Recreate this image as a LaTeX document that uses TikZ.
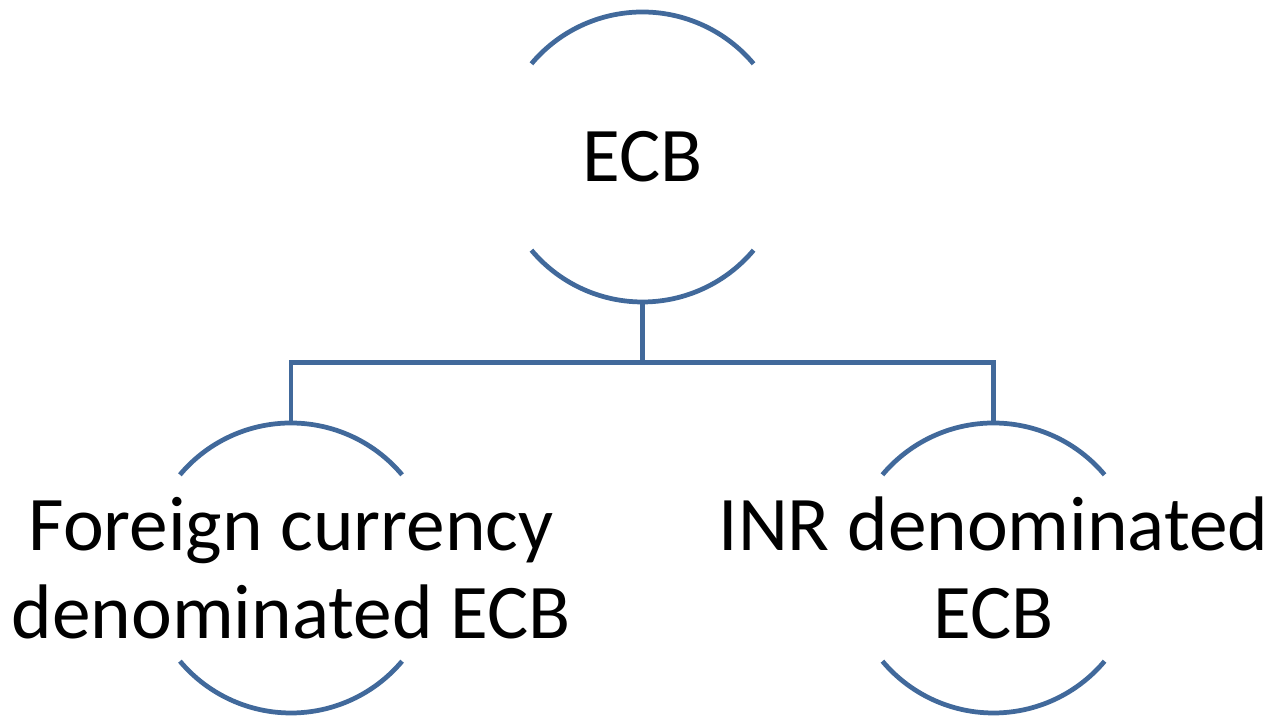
\documentclass[tikz,border=0pt]{standalone}
\usepackage{fontspec}
\setmainfont{Carlito}
\usetikzlibrary{calc}
\definecolor{ringblue}{RGB}{65,105,155}
\begin{document}
\begin{tikzpicture}[node distance=8.22cm]
\tikzstyle{bubble} = [circle, minimum size=5.8cm, inner sep=0pt, outer sep=0pt, draw=none]
\tikzstyle{caption} = [align=center, font=\fontsize{44}{50}\selectfont, text=black]
\tikzstyle{ring} = [line width=2.7pt, draw=ringblue]
\tikzstyle{link} = [line width=2.7pt, draw=ringblue]

\useasboundingbox (0,0) rectangle (25.48,14.36);

\node (ecb) [bubble] at (12.85,11.22) {};
\node (fcy) [bubble, below of=ecb, xshift=-7.03cm] {};
\node (inr) [bubble, below of=ecb, xshift=7.02cm] {};

\node (ecbtext) [caption] at (ecb) {ECB};
\node (fcytext) [caption] at (fcy) {Foreign currency\\denominated ECB};
\node (inrtext) [caption] at (inr) {INR denominated\\ECB};

% open rings, top and bottom arcs only
\foreach \n in {ecb,fcy,inr} {
  \draw [ring] (\n.40) arc[start angle=40, end angle=140, radius=2.9cm];
  \draw [ring] (\n.220) arc[start angle=220, end angle=320, radius=2.9cm];
}

\coordinate (fork) at ($(ecb.south)!0.5!(ecb.south |- fcy.north)$);
\draw [link] (ecb.south) -- (fork);
\draw [link] (fork) -| (fcy.north);
\draw [link] (fork) -| (inr.north);

\end{tikzpicture}
\end{document}
